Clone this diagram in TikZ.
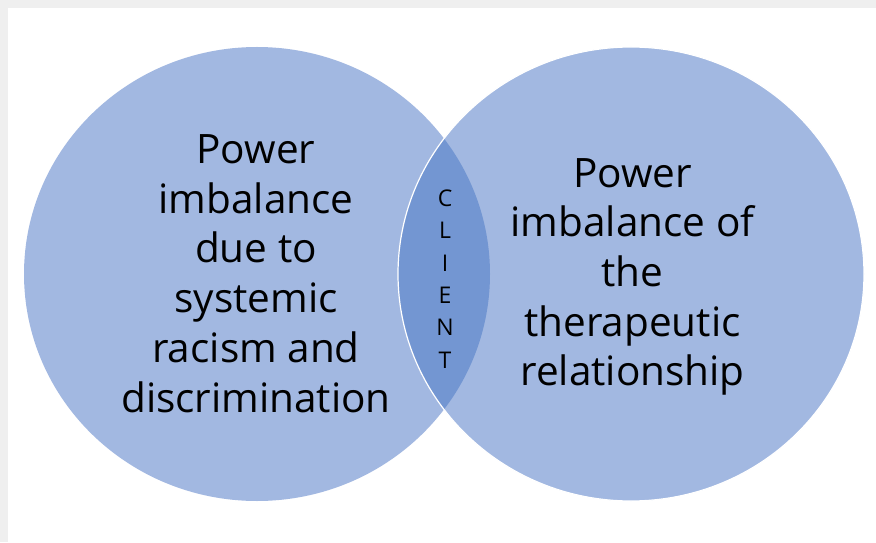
\documentclass[tikz,border=0pt]{standalone}
\usepackage{fontspec}
\setmainfont{Open Sans}
\usepackage{tikz}
\usetikzlibrary{shapes.geometric}
\definecolor{setblue}{HTML}{A2B8E1}
\definecolor{lensblue}{HTML}{7396D2}
\definecolor{framegray}{HTML}{EFEFEF}

\begin{document}
\begin{tikzpicture}[
    x=1pt, y=1pt,
    setcircle/.style={
        ellipse,
        fill=setblue,
        minimum width=466pt,
        minimum height=454pt,
        inner sep=0pt
    },
    settext/.style={
        align=center,
        inner sep=0pt,
        font=\fontsize{40.5}{49.7}\selectfont
    },
    lenstext/.style={
        align=center,
        inner sep=0pt,
        font=\fontsize{23}{32.4}\selectfont
    }
]

\useasboundingbox (0,0) rectangle (876,542);
\fill[framegray] (0,0) rectangle (876,542);
\fill[white] (8,0) rectangle (876,534);

\node[setcircle] (racism) at (257,268) {};
\node[setcircle] (therapy) at (631,268) {};

\begin{scope}
    \clip (257,268) ellipse [x radius=233, y radius=227];
    \fill[lensblue] (631,268) ellipse [x radius=233, y radius=227];
\end{scope}
\draw[white, line width=1.2pt] (631,268) ellipse [x radius=233, y radius=227];

\node[settext] (racismlabel) at (256,268.5) {Power\\imbalance\\due to\\systemic\\racism and\\discrimination};
\node[settext] (therapylabel) at (632.5,265) {Power\\imbalance of\\the\\therapeutic\\relationship};
\node[lenstext] (client) at (445,263) {C\\L\\I\\E\\N\\T};

\end{tikzpicture}
\end{document}
